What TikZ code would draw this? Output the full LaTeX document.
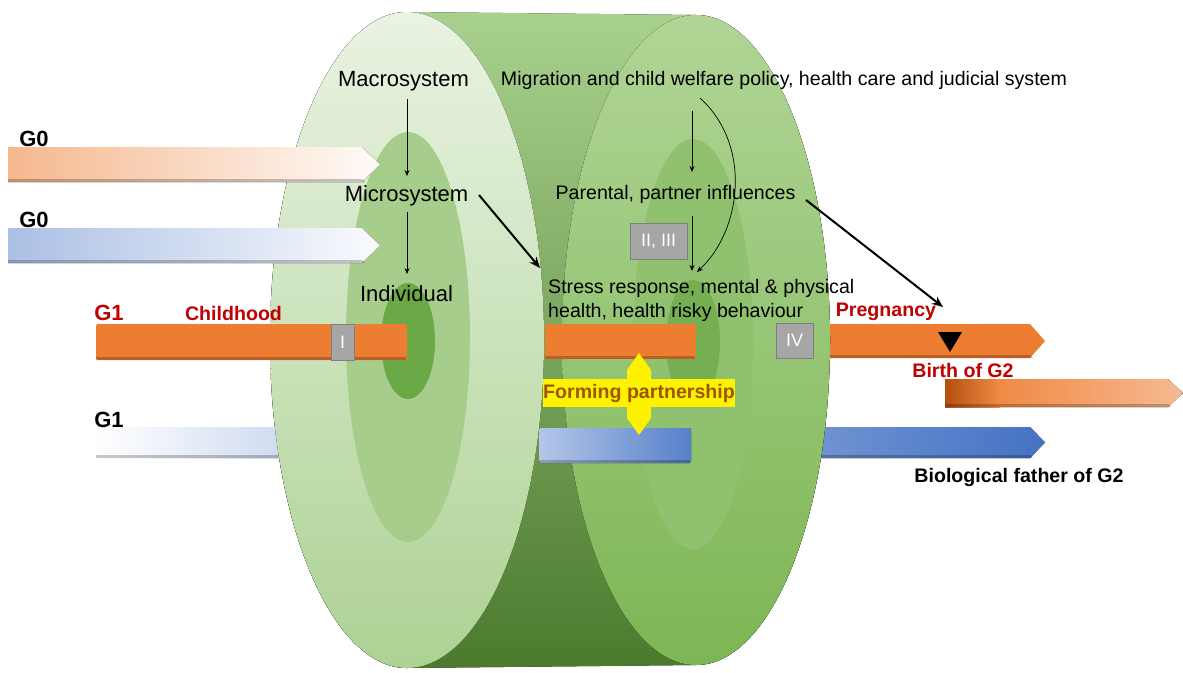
\documentclass[tikz,border=0pt]{standalone}
\usepackage{fontspec}
\setmainfont{Liberation Sans}
\usetikzlibrary{arrows.meta,calc}
\definecolor{orangeM}{HTML}{ED7D31}
\definecolor{redL}{HTML}{C00000}
\definecolor{blueM}{HTML}{4472C4}
\definecolor{brownT}{HTML}{9C5700}
\definecolor{boxgray}{HTML}{A6A6A6}
\definecolor{boxedge}{HTML}{7F7F7F}
\definecolor{bodyTop}{HTML}{A9D18E}
\definecolor{bodyMid}{HTML}{83BC5E}
\definecolor{bodyBot}{HTML}{4B7A2D}
\definecolor{backTop}{HTML}{B0D596}
\definecolor{backBot}{HTML}{7DB654}
\definecolor{backMid}{HTML}{8FC16F}
\definecolor{backIn}{HTML}{76AE52}
\definecolor{frontTop}{HTML}{E9F3E2}
\definecolor{frontBot}{HTML}{ADD294}
\definecolor{frontMid}{HTML}{A6CD8B}
\definecolor{frontIn}{HTML}{6AA946}
\definecolor{gTwoDark}{HTML}{B4500F}
\definecolor{gTwoMid}{HTML}{F08A45}
\definecolor{gTwoLight}{HTML}{F5BA92}
\begin{document}
\begin{tikzpicture}[x=1pt,y=-1pt,
  txt/.style={font=\fontsize{19.6}{24}\selectfont, inner sep=0pt},
  bigtxt/.style={font=\fontsize{22}{26}\selectfont, inner sep=0pt},
  lab/.style={font=\fontsize{19.6}{22}\selectfont\bfseries, inner sep=0pt},
  glab/.style={font=\fontsize{22}{24}\selectfont\bfseries, inner sep=0pt},
  graybox/.style={fill=boxgray, draw=boxedge, line width=0.8pt, text=white,
    font=\fontsize{18}{20}\selectfont, inner sep=0pt},
  thinar/.style={-{Stealth[length=6pt,width=5pt]}, line width=0.7pt},
  thickar/.style={-{Stealth[length=11pt,width=9pt]}, line width=2pt},
  bevel/.style={fill=black, opacity=0.22}]
\useasboundingbox (0,0) rectangle (1183,672);
\fill[white] (0,0) rectangle (1183,672);
\begin{scope}
\clip (0,0) rectangle (1183,672);
% right-hand arrows (behind the back face)
\fill[orangeM] (800,324) -- (1030,324) -- (1045,341) -- (1030,358) -- (800,358) -- cycle;
\fill[bevel] (800,355) -- (1030,355) -- (1033,358) -- (800,358) -- cycle;
\fill[left color=blueM!75!white, right color=blueM] (800,427) -- (1030,427) -- (1045,442.5) -- (1030,458) -- (800,458) -- cycle;
\fill[bevel] (800,455) -- (1030,455) -- (1033,458) -- (800,458) -- cycle;
% G2 arrow
\fill[left color=gTwoMid, right color=gTwoLight] (999,379) -- (1168,379) -- (1183,393) -- (1168,407) -- (999,407) -- cycle;
\fill[left color=gTwoDark, right color=gTwoMid] (945,379) rectangle (1000,407);
\fill[bevel] (945,404) -- (1168,404) -- (1171,407) -- (945,407) -- cycle;
% cylinder body
\fill[top color=bodyTop, middle color=bodyMid, bottom color=bodyBot]
  (407,12) -- (696,15) arc[start angle=-90, end angle=90, x radius=134, y radius=325]
  -- (407,668) arc[start angle=90, end angle=270, x radius=137, y radius=328] -- cycle;
% back face
\fill[top color=backTop, bottom color=backBot] (696,340) ellipse [x radius=134, y radius=325];
\fill[backMid] (693,344) ellipse [x radius=60, y radius=205];
\fill[backIn] (693,342) ellipse [x radius=27, y radius=62];
% middle bars
\fill[orangeM, rounded corners=2pt] (545,324) rectangle (696,359);
\fill[bevel] (545,356) rectangle (695,359);
\fill[left color=blueM!40!white, right color=blueM!90!white, rounded corners=2pt] (539,428) rectangle (691,463);
\fill[bevel] (539,460) rectangle (690,463);
% G1 blue bar (left, behind front face)
\fill[left color=white, right color=blueM!28!white] (96,427) rectangle (300,458);
\fill[bevel] (96,455) rectangle (300,458);
% front face
\fill[top color=frontTop, bottom color=frontBot] (407,340) ellipse [x radius=137, y radius=328];
\fill[frontMid] (408,337) ellipse [x radius=62, y radius=205];
\fill[frontIn] (408,341) ellipse [x radius=27, y radius=58];
% G0 arrows
\fill[left color=orangeM!55!white, right color=orangeM!3!white] (8,147) -- (362,147) -- (380,164.5) -- (362,182) -- (8,182) -- cycle;
\fill[bevel] (8,179) -- (362,179) -- (365,182) -- (8,182) -- cycle;
\fill[left color=blueM!45!white, middle color=blueM!38!white, right color=blueM!3!white] (8,228) -- (362,228) -- (380,245.5) -- (362,263) -- (8,263) -- cycle;
\fill[bevel] (8,260) -- (362,260) -- (365,263) -- (8,263) -- cycle;
% G1 orange bar
\fill[orangeM, rounded corners=2pt] (96,324) rectangle (407,360);
\fill[bevel] (96,357) rectangle (406,360);
\end{scope}
% gray boxes
\node[graybox, minimum width=23pt, minimum height=36pt] (b1) at (342.5,342) {I};
\node[graybox, minimum width=57pt, minimum height=36pt] (b23) at (658.5,241) {II, III};
\node[graybox, minimum width=37pt, minimum height=35pt] (b4) at (794.5,340.5) {IV};
% yellow double arrow and label
\fill[yellow] (639,353) -- (651,370) -- (651,418) -- (639,435) -- (627,418) -- (627,370) -- cycle;
\node[fill=yellow, text=brownT, font=\fontsize{19.6}{22}\selectfont\bfseries, inner sep=0pt,
  minimum width=192pt, minimum height=28pt] (form) at (639,393) {Forming partnership};
% black triangle
\fill[black] (938,332) -- (962,332) -- (950,352) -- cycle;
\coordinate (tri) at (950,332);
% texts
\node[bigtxt] (macro) at (403.5,81) {Macrosystem};
\node[bigtxt] (micro) at (406.5,196) {Microsystem};
\node[bigtxt] (indiv) at (406.5,294) {Individual};
\node[txt] (mig) at (784,80) {Migration and child welfare policy, health care and judicial system};
\node[txt] (par) at (675.5,194) {Parental, partner influences};
\node[txt, align=left, anchor=west] (stress) at (548,300) {Stress response, mental \& physical\\health, health risky behaviour};
\node[glab] (g0a) at (34,139) {G0};
\node[glab] (g0b) at (34,220) {G0};
\node[glab, text=redL] (g1a) at (109,313) {G1};
\node[lab, text=redL] (child) at (233.5,313) {Childhood};
\node[glab] (g1b) at (109,420) {G1};
\node[lab, text=redL] (preg) at (886,312) {Pregnancy};
\node[lab, text=redL] (birth) at (963,370) {Birth of G2};
\node[lab] (bio) at (1019,477) {Biological father of G2};
% arrow end points
\coordinate (c1) at (407,99);
\coordinate (c2) at (407,176);
\coordinate (c3) at (407,212);
\coordinate (c4) at (407,274);
\coordinate (c5) at (692,111);
\coordinate (c6) at (692,172);
\coordinate (c7) at (692,216);
\coordinate (c8) at (692,271);
\coordinate (c9) at (700,98);
\coordinate (c10) at (697,272);
\coordinate (mA) at (479,195);
\coordinate (mB) at (540,268);
\coordinate (pA) at (806,200);
\coordinate (pB) at (943,307);
% arrows
\draw[thinar] (c1) -- (c2);
\draw[thinar] (c3) -- (c4);
\draw[thinar] (c5) -- (c6);
\draw[thinar] (c7) -- (c8);
\draw[thinar] (c9) .. controls (752,145) and (742,230) .. (c10);
\draw[thickar] (mA) -- (mB);
\draw[thickar] (pA) -- (pB);
\end{tikzpicture}
\end{document}
